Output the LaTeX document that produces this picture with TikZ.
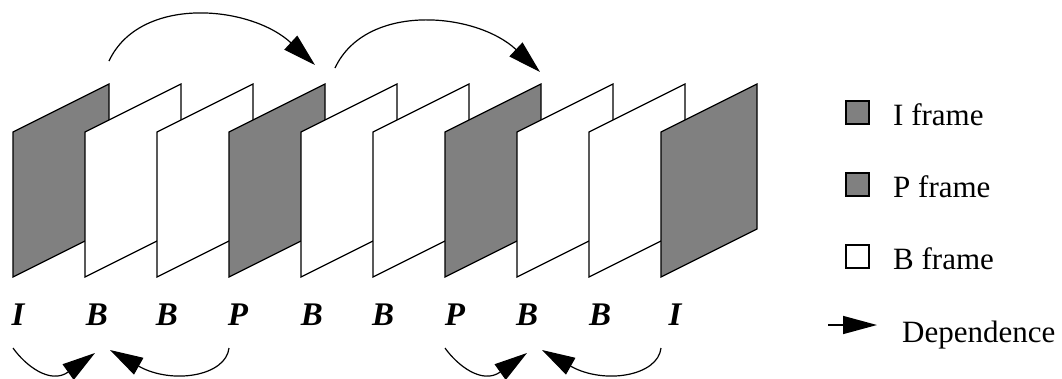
\documentclass[tikz,border=0pt]{standalone}
\usepackage{fontspec}
\setmainfont{Liberation Serif}
\usetikzlibrary{arrows.meta}
\definecolor{framegray}{HTML}{808080}
\tikzset{
  frameI/.style={draw=black, fill=framegray, line width=1.2pt, line join=miter},
  frameB/.style={draw=black, fill=white, line width=1.2pt, line join=miter},
  dep/.style={draw=black, line width=1.2pt, -{Triangle[length=33pt,width=19pt]}},
  ftype/.style={font=\fontsize{33}{33}\selectfont\bfseries\itshape, anchor=base, inner sep=0pt},
  legbox/.style={draw=black, line width=2.2pt, minimum size=23pt, inner sep=0pt, anchor=south west},
  legtext/.style={font=\fontsize{31}{31}\selectfont, anchor=base west, inner sep=0pt},
}
\begin{document}
\begin{tikzpicture}[x=1pt, y=-1pt]
\useasboundingbox (0,0) rectangle (1062,378);

% ten frames of the sequence, back to front
\foreach \i/\kind in {0/frameI,1/frameB,2/frameB,3/frameI,4/frameB,5/frameB,6/frameI,7/frameB,8/frameB,9/frameI}{
  \pgfmathsetmacro{\xl}{13+72*\i}
  \pgfmathsetmacro{\xr}{\xl+96}
  \draw[\kind] (\xl,132) -- (\xr,84) -- (\xr,229) -- (\xl,277) -- cycle;
}

% frame type labels
\node[ftype] (l0) at (18,325) {I};
\node[ftype] (l1) at (97,325) {B};
\node[ftype] (l2) at (167,325) {B};
\node[ftype] (l3) at (238,325) {P};
\node[ftype] (l4) at (312,325) {B};
\node[ftype] (l5) at (383,325) {B};
\node[ftype] (l6) at (455,325) {P};
\node[ftype] (l7) at (527,325) {B};
\node[ftype] (l8) at (600,325) {B};
\node[ftype] (l9) at (675,325) {I};

% forward prediction arcs above the frames
\coordinate (t0) at (109,61);
\coordinate (t1) at (315,65);
\coordinate (t2) at (335,68);
\coordinate (t3) at (540,72);
\draw[dep] (t0) .. controls (140,-5) and (250,5) .. (t1);
\draw[dep] (t2) .. controls (366,2) and (476,12) .. (t3);

% bidirectional dependence arcs below the labels
\coordinate (a0) at (13,348);
\coordinate (a1) at (95,353);
\coordinate (b0) at (229,348);
\coordinate (b1) at (110,350);
\coordinate (c0) at (445,348);
\coordinate (c1) at (527,353);
\coordinate (d0) at (661,348);
\coordinate (d1) at (542,350);
\draw[dep] (a0) .. controls (25,365) and (50,385) .. (a1);
\draw[dep] (b0) .. controls (226,376) and (172,385) .. (b1);
\draw[dep] (c0) .. controls (457,365) and (482,385) .. (c1);
\draw[dep] (d0) .. controls (658,376) and (604,385) .. (d1);

% legend
\node[legbox, fill=framegray] (kI) at (845,125) {};
\node[legbox, fill=framegray] (kP) at (845,197) {};
\node[legbox, fill=white] (kB) at (845,269) {};
\node[legtext] (tI) at (893,125) {I frame};
\node[legtext] (tP) at (893,197) {P frame};
\node[legtext] (tB) at (893,269) {B frame};
\coordinate (k0) at (828,325);
\coordinate (k1) at (877,325);
\draw[line width=1.5pt, -{Triangle[length=34pt,width=18pt]}] (k0) -- (k1);
\node[legtext] (tD) at (902,342) {Dependence};
\end{tikzpicture}
\end{document}
